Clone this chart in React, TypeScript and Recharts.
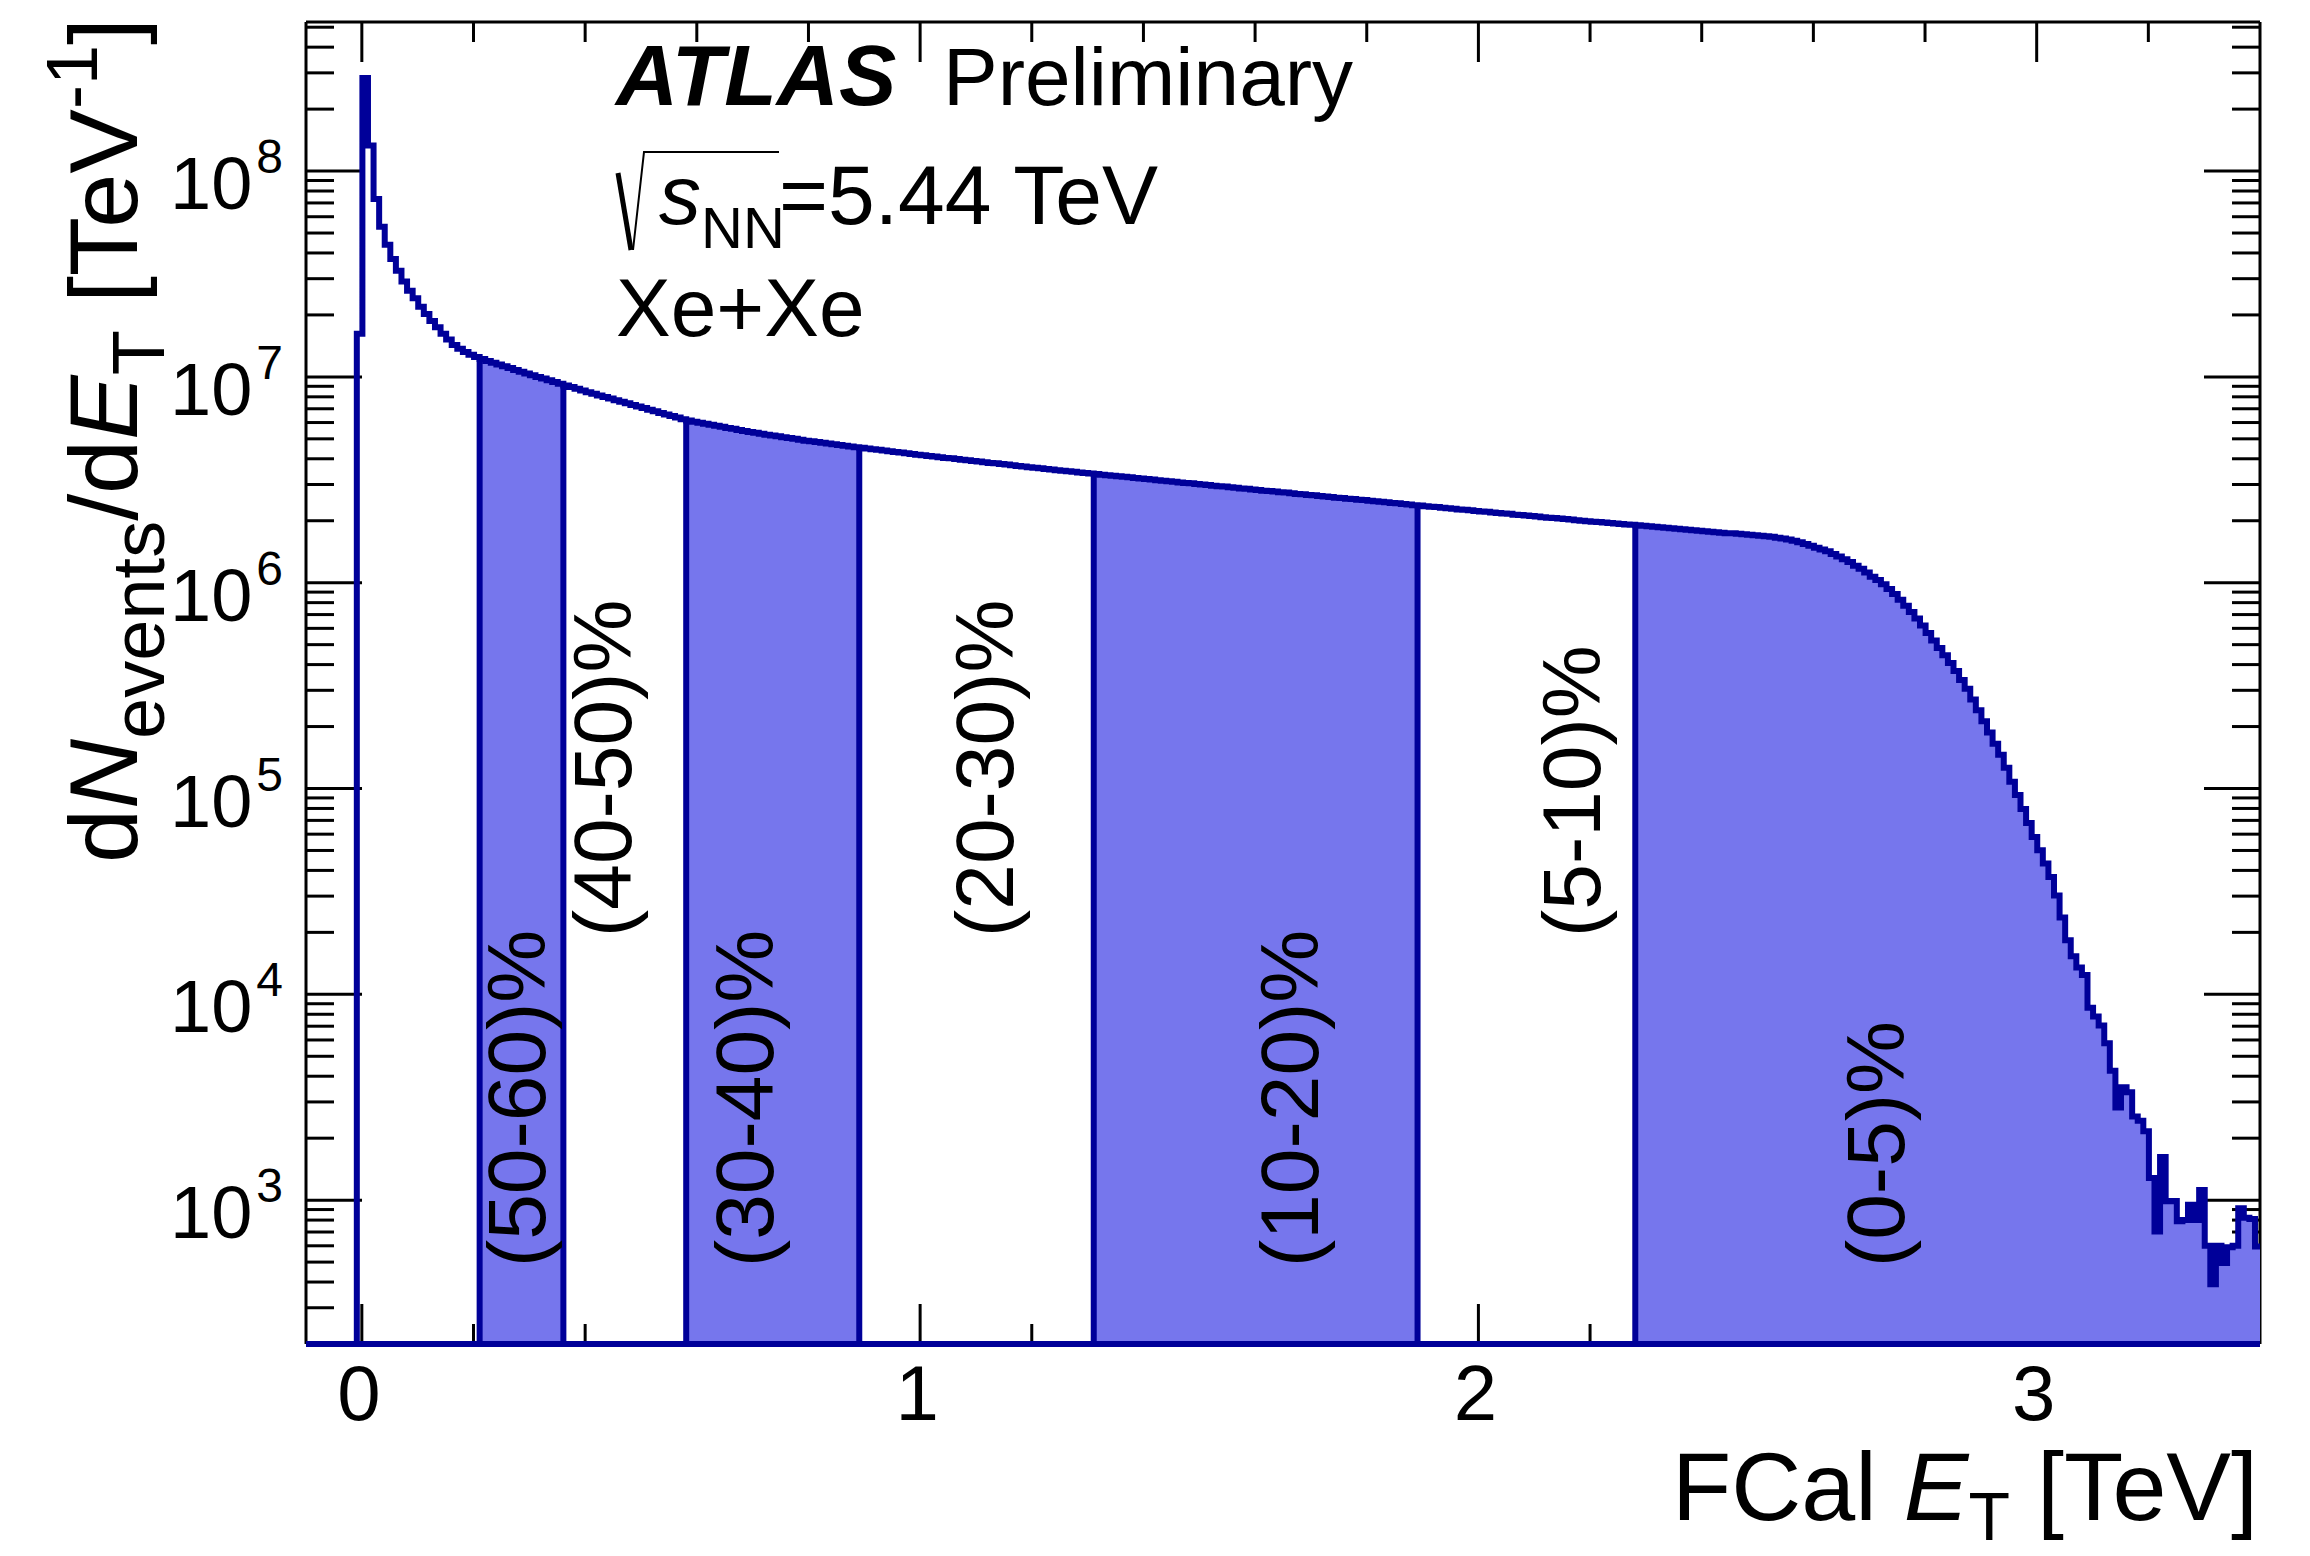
import React from "react";
import {
  ComposedChart,
  Area,
  Line,
  XAxis,
  YAxis,
  ReferenceLine,
  ReferenceDot,
} from "recharts";

const W = 2310;
const H = 1556;
const FONT = "'Liberation Sans', Arial, Helvetica, sans-serif";
const LINE_BLUE = "#000099";
const FILL_BLUE = "#7676ed";

// axis ranges
const X_MIN = -0.1;
const X_MAX = 3.4;
const Y_MIN = 200;
const Y_MAX = 5.3e8;

// axes need a non-zero thickness to be drawn; this keeps them from taking room
const THIN = 0.01;

// histogram layers go above the frame ticks, like the ROOT canvas
const Z_FILL = 550;
const Z_OUTLINE = 560;

// FCal E_T binning in TeV: first filled bin starts here, 10 GeV wide bins
const FIRST_EDGE = -0.009;
const BIN_W = 0.01;

// dN_events/dE_T [TeV^-1], one entry per bin, split by region of the spectrum
const peakCounts = [
  1.62e7, 2.83e8, 1.33e8, 7.31e7, 5.37e7, 4.39e7, 3.74e7, 3.28e7, 2.91e7, 2.62e7,
  2.41e7, 2.19e7, 2.02e7, 1.87e7, 1.74e7, 1.62e7, 1.52e7, 1.43e7, 1.37e7, 1.32e7,
  1.28e7, 1.25e7,
];

const midCounts = [
  1.22e7, 1.195e7, 1.171e7, 1.148e7, 1.125e7, 1.103e7, 1.081e7, 1.06e7, 1.039e7, 1.019e7,
  1.0e7, 9.81e6, 9.62e6, 9.44e6, 9.26e6, 9.09e6, 8.92e6, 8.75e6, 8.58e6, 8.43e6,
  8.28e6, 8.13e6, 7.99e6, 7.85e6, 7.71e6, 7.57e6, 7.44e6, 7.3e6, 7.17e6, 7.05e6,
  6.92e6, 6.8e6, 6.68e6, 6.57e6, 6.45e6, 6.34e6, 6.23e6, 6.13e6, 6.06e6, 5.99e6,
  5.92e6, 5.85e6, 5.79e6, 5.72e6, 5.65e6, 5.59e6, 5.52e6, 5.46e6, 5.4e6, 5.35e6,
  5.3e6, 5.24e6, 5.19e6, 5.14e6, 5.09e6, 5.04e6, 5.0e6, 4.95e6, 4.9e6, 4.86e6,
  4.82e6, 4.78e6, 4.74e6, 4.7e6, 4.67e6, 4.63e6, 4.59e6, 4.55e6, 4.52e6, 4.49e6,
  4.45e6, 4.42e6, 4.39e6, 4.35e6, 4.32e6, 4.29e6, 4.26e6, 4.22e6, 4.19e6, 4.16e6,
  4.13e6, 4.1e6, 4.07e6, 4.04e6, 4.02e6, 3.99e6, 3.96e6, 3.93e6, 3.9e6, 3.88e6,
  3.85e6, 3.82e6, 3.8e6, 3.77e6, 3.75e6, 3.72e6, 3.69e6, 3.67e6, 3.64e6, 3.62e6,
  3.6e6, 3.57e6, 3.55e6, 3.52e6, 3.5e6, 3.48e6, 3.46e6, 3.43e6, 3.41e6, 3.39e6,
];

const plateauCounts = [
  3.37e6, 3.35e6, 3.33e6, 3.31e6, 3.29e6, 3.27e6, 3.25e6, 3.23e6, 3.21e6, 3.19e6,
  3.17e6, 3.15e6, 3.13e6, 3.11e6, 3.09e6, 3.07e6, 3.05e6, 3.04e6, 3.02e6, 3.0e6,
  2.98e6, 2.96e6, 2.94e6, 2.93e6, 2.91e6, 2.89e6, 2.87e6, 2.86e6, 2.84e6, 2.82e6,
  2.8e6, 2.79e6, 2.77e6, 2.75e6, 2.74e6, 2.72e6, 2.7e6, 2.69e6, 2.67e6, 2.66e6,
  2.64e6, 2.62e6, 2.61e6, 2.59e6, 2.58e6, 2.56e6, 2.55e6, 2.53e6, 2.52e6, 2.5e6,
  2.49e6, 2.47e6, 2.46e6, 2.44e6, 2.43e6, 2.41e6, 2.4e6, 2.38e6, 2.37e6, 2.35e6,
  2.34e6, 2.33e6, 2.31e6, 2.3e6, 2.29e6, 2.27e6, 2.26e6, 2.25e6, 2.23e6, 2.22e6,
  2.21e6, 2.19e6, 2.18e6, 2.17e6, 2.16e6, 2.14e6, 2.13e6, 2.12e6, 2.11e6, 2.1e6,
  2.08e6, 2.07e6, 2.06e6, 2.05e6, 2.04e6, 2.03e6, 2.01e6, 2.0e6, 1.99e6, 1.98e6,
  1.97e6, 1.96e6, 1.95e6, 1.94e6, 1.93e6, 1.92e6, 1.91e6, 1.9e6, 1.89e6, 1.88e6,
  1.87e6, 1.86e6, 1.85e6, 1.84e6, 1.83e6, 1.82e6, 1.81e6, 1.8e6, 1.79e6, 1.78e6,
  1.77e6, 1.76e6, 1.75e6, 1.74e6, 1.74e6, 1.73e6, 1.72e6, 1.71e6, 1.7e6, 1.69e6,
  1.68e6, 1.67e6, 1.655e6, 1.64e6, 1.62e6, 1.6e6,
];

const kneeCounts = [
  1.57e6, 1.54e6, 1.51e6, 1.48e6, 1.45e6, 1.42e6, 1.38e6, 1.34e6, 1.3e6, 1.26e6,
  1.21e6, 1.17e6, 1.12e6, 1.07e6, 1.03e6, 9.84e5, 9.33e5, 8.81e5, 8.26e5, 7.73e5,
  7.21e5, 6.7e5, 6.19e5, 5.7e5, 5.24e5, 4.82e5, 4.44e5, 4.07e5, 3.72e5, 3.37e5,
  3.05e5, 2.71e5, 2.4e5, 2.12e5, 1.87e5, 1.65e5, 1.46e5, 1.26e5, 1.08e5, 9.29e4,
  7.94e4, 6.79e4, 5.82e4, 5.01e4, 4.32e4, 3.72e4, 3.02e4,
];

const tailCounts = [
  2.36e4, 1.83e4, 1.53e4, 1.35e4, 1.24e4, 8.61e3, 7.8e3, 7.05e3, 5.78e3, 4.25e3,
  2.82e3, 3.54e3, 3.34e3, 2.55e3, 2.43e3, 2.16e3, 1.28e3, 705, 1.62e3, 987,
  990, 790, 800, 950, 800, 1120, 600, 390, 600, 495,
  590, 600, 914, 820, 810, 596,
];

// centrality classes: lower FCal E_T edge (TeV) of each class
const centralityLabels = ["(50-60)%", "(40-50)%", "(30-40)%", "(20-30)%", "(10-20)%", "(5-10)%", "(0-5)%"];
const centralityEdges = [0.211, 0.361, 0.581, 0.891, 1.311, 1.891, 2.281];
const centralityFilled = [true, false, true, false, true, false, true];

// where each rotated class label starts (TeV, dN/dE_T)
const labelSpots = [
  { x: 0.279, y: 473 },
  { x: 0.434, y: 1.9e4 },
  { x: 0.688, y: 473 },
  { x: 1.117, y: 1.9e4 },
  { x: 1.664, y: 473 },
  { x: 2.17, y: 1.9e4 },
  { x: 2.714, y: 473 },
];

const xMajorTicks = [0, 1, 2, 3];
const xMinorTicks = [0.2, 0.4, 0.6, 0.8, 1.2, 1.4, 1.6, 1.8, 2.2, 2.4, 2.6, 2.8, 3.2];
const yMajorTicks = [1e3, 1e4, 1e5, 1e6, 1e7, 1e8];
const yMinorTicks: number[] = [];
for (let e = 2; e <= 8; e++) {
  for (let m = 2; m <= 9; m++) {
    const v = m * Math.pow(10, e);
    if (v > Y_MIN && v < Y_MAX) yMinorTicks.push(v);
  }
}

// ── histogram rows ───────────────────────────────────────────────────────────

const binCounts = [...peakCounts, ...midCounts, ...plateauCounts, ...kneeCounts, ...tailCounts];
const edgeBin = (e: number) => Math.round((e - FIRST_EDGE) / BIN_W);
const binEdge = (i: number) => +(FIRST_EDGE + i * BIN_W).toFixed(3);
const classStart = centralityEdges.map(edgeBin);
const classOf = (i: number) => {
  let c = -1;
  classStart.forEach((s, j) => {
    if (i >= s) c = j;
  });
  return c;
};
// empty / off-scale bins sit on the frame floor
const floor = (v: number) => Math.max(v, Y_MIN);

const rows: { x: number; h: number; fill: number | null }[] = [{ x: X_MIN, h: Y_MIN, fill: null }];
binCounts.forEach((v, i) => {
  const c = classOf(i);
  let fill = c >= 0 && centralityFilled[c] ? floor(v) : null;
  if (fill === null && i > 0) {
    // close the step of a filled class that ended on the previous bin
    const pc = classOf(i - 1);
    if (pc >= 0 && centralityFilled[pc]) fill = floor(binCounts[i - 1]);
  }
  rows.push({ x: binEdge(i), h: floor(v), fill });
});
const lastV = binCounts[binCounts.length - 1];
const lastC = classOf(binCounts.length - 1);
rows.push({ x: X_MAX, h: floor(lastV), fill: centralityFilled[lastC] ? floor(lastV) : null });

const boundaries = classStart.map((k) => ({
  x: binEdge(k),
  top: Math.max(binCounts[k - 1], binCounts[k]),
}));

// ── ticks ────────────────────────────────────────────────────────────────────

const tickStroke = { stroke: "#000", strokeWidth: 3 };
const noLabel = () => <g />;

function XNumTick(props: any) {
  const { x, y, payload } = props;
  return (
    <text x={x - 3} y={y + 76} textAnchor="middle" fontFamily={FONT} fontSize={78} fill="#000">
      {payload.value}
    </text>
  );
}

function YPowTick(props: any) {
  const { x, y, payload } = props;
  const exp = Math.round(Math.log10(payload.value));
  return (
    <text x={x - 23} y={y + 38} textAnchor="end" fontFamily={FONT} fontSize={74} fill="#000">
      <tspan>10</tspan>
      <tspan dx={4} dy={-36} fontSize={48}>
        {exp}
      </tspan>
    </text>
  );
}

const classLabel = (text: string) => (p: any) => (
  <text
    transform={`translate(${p.cx}, ${p.cy}) rotate(-90)`}
    dy="0.33em"
    textAnchor="start"
    fontFamily={FONT}
    fontSize={82}
    fill="#000"
  >
    {text}
  </text>
);

export default function App() {
  const tickAxisX = {
    dataKey: "x",
    type: "number" as const,
    domain: [X_MIN, X_MAX],
    allowDataOverflow: true,
    mirror: true,
    height: THIN,
    interval: 0,
    tick: noLabel,
    tickLine: tickStroke,
  };
  const tickAxisY = {
    type: "number" as const,
    scale: "log" as const,
    domain: [Y_MIN, Y_MAX],
    allowDataOverflow: true,
    mirror: true,
    width: THIN,
    interval: 0,
    tick: noLabel,
    tickLine: tickStroke,
  };

  return (
    <div style={{ position: "absolute", left: 0, top: 0, width: W, height: H, background: "#fff" }}>
      <ComposedChart
        width={W}
        height={H}
        data={rows}
        margin={{ top: 22, right: 50, bottom: 212, left: 306 }}
      >
        {/* inward tick marks on the four frame sides */}
        <XAxis {...tickAxisX} xAxisId="bMaj" orientation="bottom" ticks={xMajorTicks} tickSize={40} axisLine={false} />
        <XAxis {...tickAxisX} xAxisId="bMin" orientation="bottom" ticks={xMinorTicks} tickSize={20} axisLine={false} />
        <XAxis {...tickAxisX} xAxisId="tMaj" orientation="top" ticks={xMajorTicks} tickSize={40} axisLine={tickStroke} />
        <XAxis {...tickAxisX} xAxisId="tMin" orientation="top" ticks={xMinorTicks} tickSize={20} axisLine={false} />
        <YAxis {...tickAxisY} yAxisId="lMaj" orientation="left" ticks={yMajorTicks} tickSize={56} axisLine={false} />
        <YAxis {...tickAxisY} yAxisId="lMin" orientation="left" ticks={yMinorTicks} tickSize={28} axisLine={false} />
        <YAxis {...tickAxisY} yAxisId="rMaj" orientation="right" ticks={yMajorTicks} tickSize={56} axisLine={tickStroke} />
        <YAxis {...tickAxisY} yAxisId="rMin" orientation="right" ticks={yMinorTicks} tickSize={28} axisLine={false} />

        {/* labelled axes */}
        <XAxis
          dataKey="x"
          type="number"
          domain={[X_MIN, X_MAX]}
          allowDataOverflow
          ticks={xMajorTicks}
          interval={0}
          height={THIN}
          tickSize={0}
          tickMargin={0}
          tickLine={false}
          tick={<XNumTick />}
          axisLine={{ stroke: LINE_BLUE, strokeWidth: 6 }}
        />
        <YAxis
          type="number"
          scale="log"
          domain={[Y_MIN, Y_MAX]}
          allowDataOverflow
          ticks={yMajorTicks}
          interval={0}
          width={THIN}
          tickSize={0}
          tickMargin={0}
          tickLine={false}
          tick={<YPowTick />}
          axisLine={tickStroke}
        />

        <Area
          dataKey="fill"
          type="stepAfter"
          baseValue={Y_MIN}
          stroke="none"
          fill={FILL_BLUE}
          fillOpacity={1}
          dot={false}
          activeDot={false}
          isAnimationActive={false}
          zIndex={Z_FILL}
        />
        <Line
          dataKey="h"
          type="stepAfter"
          stroke={LINE_BLUE}
          strokeWidth={6}
          strokeLinejoin="miter"
          dot={false}
          activeDot={false}
          isAnimationActive={false}
          zIndex={Z_OUTLINE}
        />
        {boundaries.map((b, i) => (
          <ReferenceLine
            key={`edge-${i}`}
            segment={[
              { x: b.x, y: Y_MIN },
              { x: b.x, y: b.top },
            ]}
            stroke={LINE_BLUE}
            strokeWidth={6}
            zIndex={Z_OUTLINE}
          />
        ))}
        {/* outline of the class histograms along the floor */}
        <ReferenceLine y={Y_MIN} stroke={LINE_BLUE} strokeWidth={6} zIndex={Z_OUTLINE} />
        {labelSpots.map((s, i) => (
          <ReferenceDot
            key={`lbl-${i}`}
            x={s.x}
            y={s.y}
            r={0}
            shape={classLabel(centralityLabels[i])}
            zIndex={Z_OUTLINE + 10}
          />
        ))}
      </ComposedChart>

      {/* titles and the experiment tag */}
      <svg
        width={W}
        height={H}
        style={{ position: "absolute", left: 0, top: 0, pointerEvents: "none" }}
        fontFamily={FONT}
      >
        <text x={616} y={105} fontSize={86} fontWeight="bold" fontStyle="italic" fill="#000">
          ATLAS
        </text>
        <text x={943} y={105} fontSize={82} fill="#000">
          Preliminary
        </text>

        <path d="M618,173 L631,250" stroke="#000" strokeWidth={5} fill="none" />
        <path d="M633,250 L644,152 L779,152" stroke="#000" strokeWidth={2} fill="none" />
        <text x={659} y={224} fontSize={84} fill="#000">
          <tspan fontStyle="italic">s</tspan>
          <tspan fontSize={58} dy={24}>
            NN
          </tspan>
          <tspan x={779} dy={-24}>
            =5.44 TeV
          </tspan>
        </text>
        <text x={616} y={336} fontSize={82} fill="#000">
          Xe+Xe
        </text>

        <text x={2258} y={1520} textAnchor="end" fontSize={97} fill="#000">
          FCal{" "}
          <tspan fontStyle="italic">E</tspan>
          <tspan fontSize={68} dy={20}>
            T
          </tspan>
          <tspan dy={-20}> [TeV]</tspan>
        </text>

        <text transform="translate(137, 18) rotate(-90)" textAnchor="end" fontSize={97} fill="#000">
          d<tspan fontStyle="italic">N</tspan>
          <tspan fontSize={74} dy={27}>
            events
          </tspan>
          <tspan dy={-27}>/d</tspan>
          <tspan fontStyle="italic">E</tspan>
          <tspan fontSize={74} dy={27}>
            T
          </tspan>
          <tspan dy={-27}> [TeV</tspan>
          <tspan fontSize={72} dy={-40}>
            -1
          </tspan>
          <tspan dy={40}>]</tspan>
        </text>
      </svg>
    </div>
  );
}
